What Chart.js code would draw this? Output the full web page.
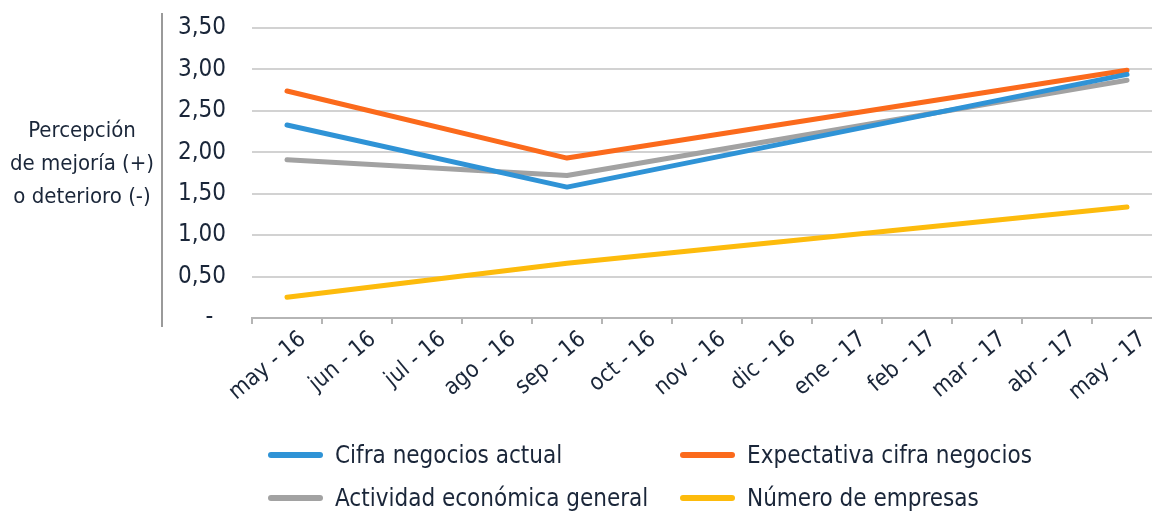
<!DOCTYPE html>
<html>
<head>
<meta charset="utf-8">
<script src="https://cdn.jsdelivr.net/npm/chart.js@4"></script>
<style>
  html, body { margin: 0; padding: 0; background: #fff; overflow: hidden; }
  #wrap { position: relative; width: 1170px; height: 513px; }
  #legend { position: absolute; left: 0; top: 0; width: 1170px; height: 513px; pointer-events: none;
            font-family: 'Liberation Sans Narrow', 'DejaVu Sans Condensed', sans-serif; font-size: 24px; color: #1a2639; }
  .item { position: absolute; display: flex; align-items: center; white-space: nowrap; }
  .swatch { width: 55px; height: 6px; border-radius: 3px; margin-right: 12px; }
</style>
</head>
<body>
<div id="wrap">
  <canvas id="myChart" width="1170" height="513"></canvas>
  <div id="legend"></div>
</div>
<script>
const labels = ['may - 16', 'jun - 16', 'jul - 16', 'ago - 16', 'sep - 16', 'oct - 16', 'nov - 16',
                'dic - 16', 'ene - 17', 'feb - 17', 'mar - 17', 'abr - 17', 'may - 17'];
const cifraActual    = [2.33, null, null, null, 1.58, null, null, null, null, null, null, null, 2.94];
const expectativa    = [2.74, null, null, null, 1.93, null, null, null, null, null, null, null, 2.99];
const actividad      = [1.91, null, null, null, 1.72, null, null, null, null, null, null, null, 2.87];
const numeroEmpresas = [0.25, null, null, null, 0.66, null, null, null, null, null, null, null, 1.34];
const yTitle = ['Percepción', 'de mejoría (+)', 'o deterioro (-)'];

const textColor = '#1a2639';
const fontFamily = "'Liberation Sans Narrow', 'DejaVu Sans Condensed', sans-serif";

// vertical rule left of the tick labels + horizontal y title
const extras = {
    id: 'extras',
    afterDraw(chart) {
        const c = chart.ctx;
        c.save();
        c.strokeStyle = '#9a9a9a';
        c.lineWidth = 2;
        c.beginPath();
        c.moveTo(162, 13);
        c.lineTo(162, 327);
        c.stroke();
        c.fillStyle = textColor;
        c.font = '22px ' + fontFamily;
        c.textAlign = 'center';
        c.textBaseline = 'middle';
        yTitle.forEach((t, i) => c.fillText(t, 82, 131 + i * 33));
        c.restore();
    }
};

let ctx = document.getElementById('myChart');
const myChart = new Chart(ctx, {
    type: 'line',
    data: {
        labels: labels,
        datasets: [
            { label: 'Cifra negocios actual', data: cifraActual, borderColor: '#2f93d6' },
            { label: 'Expectativa cifra negocios', data: expectativa, borderColor: '#fb6a1c' },
            { label: 'Actividad económica general', data: actividad, borderColor: '#a2a2a2' },
            { label: 'Número de empresas', data: numeroEmpresas, borderColor: '#fdbb0c' }
        ].map(d => Object.assign(d, {
            borderWidth: 5,
            pointRadius: 0,
            spanGaps: true,
            tension: 0,
            borderCapStyle: 'round',
            borderJoinStyle: 'round'
        }))
    },
    options: {
        responsive: false,
        animation: false,
        layout: { padding: { left: 178, right: 8, top: 28, bottom: 0 } },
        plugins: {
            legend: { display: false },
            tooltip: { enabled: false }
        },
        scales: {
            y: {
                min: 0,
                max: 3.5,
                afterFit: s => { s.width = 74; },
                ticks: {
                    stepSize: 0.5,
                    crossAlign: 'far',
                    padding: 0,
                    color: textColor,
                    font: { family: fontFamily, size: 24 },
                    callback: v => v === 0 ? '    -' : v.toFixed(2).replace('.', ',')
                },
                grid: { color: '#d2d2d2', lineWidth: 2, drawTicks: false },
                border: { display: false }
            },
            x: {
                afterFit: s => { s.height = 195; },
                offset: true,
                ticks: {
                    minRotation: 40,
                    maxRotation: 40,
                    autoSkip: false,
                    padding: 2,
                    labelOffset: 16,
                    color: textColor,
                    font: { family: fontFamily, size: 23 }
                },
                grid: { offset: true, drawOnChartArea: false, tickLength: 6, color: '#b5b5b5', lineWidth: 2 },
                border: { color: '#b5b5b5', width: 2 }
            }
        }
    },
    plugins: [extras]
});

// two-column legend under the plot
const legendPos = [[268, 455], [680, 455], [268, 498], [680, 498]];
const legendBox = document.getElementById('legend');
myChart.data.datasets.forEach((d, i) => {
    const item = document.createElement('div');
    item.className = 'item';
    item.style.left = legendPos[i][0] + 'px';
    item.style.top = (legendPos[i][1] - 15) + 'px';
    item.style.height = '30px';
    const sw = document.createElement('span');
    sw.className = 'swatch';
    sw.style.background = d.borderColor;
    const tx = document.createElement('span');
    tx.textContent = d.label;
    item.appendChild(sw);
    item.appendChild(tx);
    legendBox.appendChild(item);
});
</script>
</body>
</html>
